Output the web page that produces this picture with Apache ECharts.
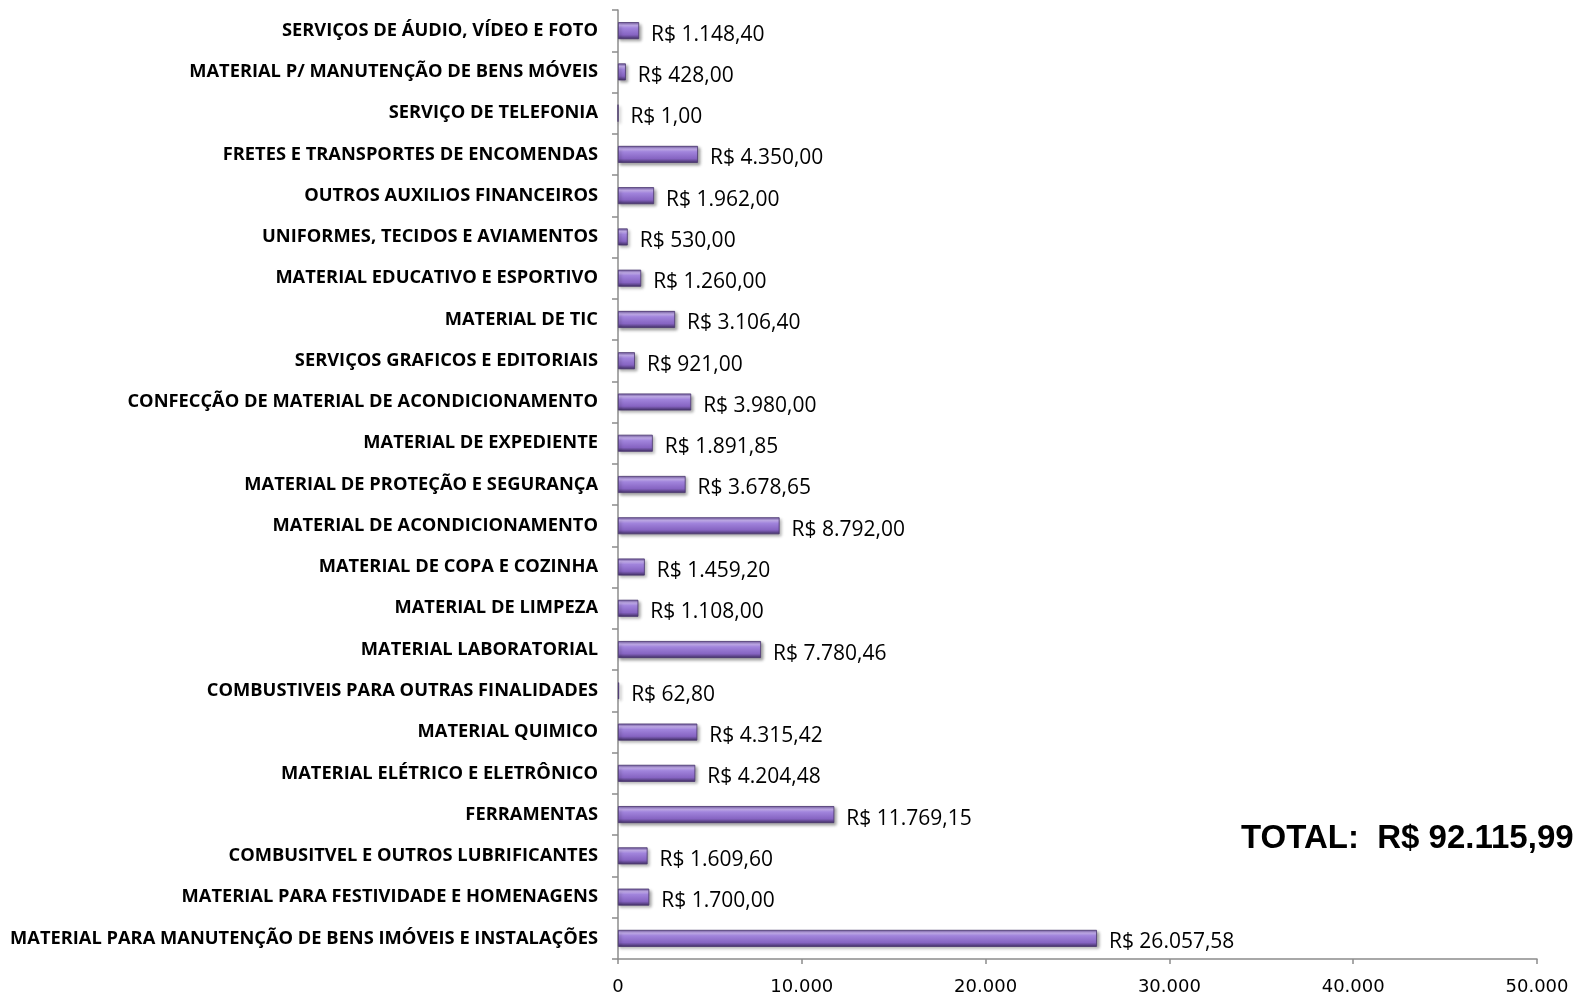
<!DOCTYPE html>
<html>
<head>
<meta charset="utf-8">
<script src="https://cdn.jsdelivr.net/npm/echarts@6/dist/echarts.min.js"></script>
<style>
  html, body { margin: 0; padding: 0; background: #fff; }
  #chart { width: 1573px; height: 1003px; }
</style>
</head>
<body>
<div id="chart"></div>
<script>
// categorias de baixo para cima (eixo de categoria do ECharts começa embaixo)
const categorias = [
  'MATERIAL PARA MANUTENÇÃO DE BENS IMÓVEIS E INSTALAÇÕES',
  'MATERIAL PARA FESTIVIDADE E HOMENAGENS',
  'COMBUSITVEL E OUTROS LUBRIFICANTES',
  'FERRAMENTAS',
  'MATERIAL ELÉTRICO E ELETRÔNICO',
  'MATERIAL QUIMICO',
  'COMBUSTIVEIS PARA OUTRAS FINALIDADES',
  'MATERIAL LABORATORIAL',
  'MATERIAL DE LIMPEZA',
  'MATERIAL DE COPA E COZINHA',
  'MATERIAL DE ACONDICIONAMENTO',
  'MATERIAL DE PROTEÇÃO E SEGURANÇA',
  'MATERIAL DE EXPEDIENTE',
  'CONFECÇÃO DE MATERIAL DE ACONDICIONAMENTO',
  'SERVIÇOS GRAFICOS E EDITORIAIS',
  'MATERIAL DE TIC',
  'MATERIAL EDUCATIVO E ESPORTIVO',
  'UNIFORMES, TECIDOS E AVIAMENTOS',
  'OUTROS AUXILIOS FINANCEIROS',
  'FRETES E TRANSPORTES DE ENCOMENDAS',
  'SERVIÇO DE TELEFONIA',
  'MATERIAL P/ MANUTENÇÃO DE BENS MÓVEIS',
  'SERVIÇOS DE ÁUDIO, VÍDEO E FOTO'
];
const valores = [
  26057.58, 1700.00, 1609.60, 11769.15, 4204.48, 4315.42, 62.80, 7780.46,
  1108.00, 1459.20, 8792.00, 3678.65, 1891.85, 3980.00, 921.00, 3106.40,
  1260.00, 530.00, 1962.00, 4350.00, 1.00, 428.00, 1148.40
];
const eixoMin = 0;
const eixoMax = 50000;
const eixoIntervalo = 10000;
const totalTexto = 'TOTAL:  R$ 92.115,99';

function formatBR(v, dec) {
  let partes = v.toFixed(dec).split('.');
  partes[0] = partes[0].replace(/\B(?=(\d{3})+(?!\d))/g, '.');
  return partes.join(',');
}

let chart = echarts.init(document.getElementById('chart'));

let option = {
  backgroundColor: '#ffffff',
  animation: false,
  grid: { left: 618, right: 36, top: 10, bottom: 44, containLabel: false },
  xAxis: {
    type: 'value',
    min: eixoMin,
    max: eixoMax,
    interval: eixoIntervalo,
    axisLine: { show: true, lineStyle: { color: '#8c8c8c', width: 1.5 } },
    axisTick: { show: true, length: 5, lineStyle: { color: '#8c8c8c', width: 1.5 } },
    splitLine: { show: false },
    axisLabel: {
      color: '#000',
      fontFamily: 'DejaVu Sans',
      fontSize: 18,
      margin: 19,
      formatter: v => formatBR(v, 0)
    }
  },
  yAxis: {
    type: 'category',
    data: categorias,
    axisLine: { show: true, lineStyle: { color: '#8c8c8c', width: 1.5 } },
    axisTick: { show: true, length: 6, lineStyle: { color: '#8c8c8c', width: 1.5 } },
    axisLabel: {
      color: '#000',
      fontFamily: 'Open Sans',
      fontWeight: 'bold',
      fontSize: 18.3,
      margin: 20,
      padding: [0, 0, 5, 0]
    }
  },
  series: [{
    type: 'bar',
    data: valores,
    barWidth: 17,
    itemStyle: {
      color: new echarts.graphic.LinearGradient(0, 0, 0, 1, [
        { offset: 0, color: '#6b549a' },
        { offset: 0.18, color: '#c8b2f2' },
        { offset: 0.35, color: '#a184dc' },
        { offset: 0.75, color: '#8664c2' },
        { offset: 1, color: '#3f2e61' }
      ]),
      borderColor: '#4a3670',
      borderWidth: 0.8,
      shadowColor: 'rgba(0,0,0,0.35)',
      shadowBlur: 3,
      shadowOffsetX: 2,
      shadowOffsetY: 2
    },
    label: {
      show: true,
      position: 'right',
      distance: 12,
      offset: [0, 4],
      color: '#000',
      fontFamily: 'Open Sans',
      fontSize: 21,
      formatter: p => 'R$ ' + formatBR(p.value, 2)
    }
  }],
  graphic: [{
    type: 'text',
    x: 1241,
    y: 839,
    style: {
      text: totalTexto,
      fill: '#000',
      verticalAlign: 'middle',
      font: 'bold 33px "Liberation Sans", Arial, sans-serif'
    }
  }]
};

chart.setOption(option);
</script>
</body>
</html>
